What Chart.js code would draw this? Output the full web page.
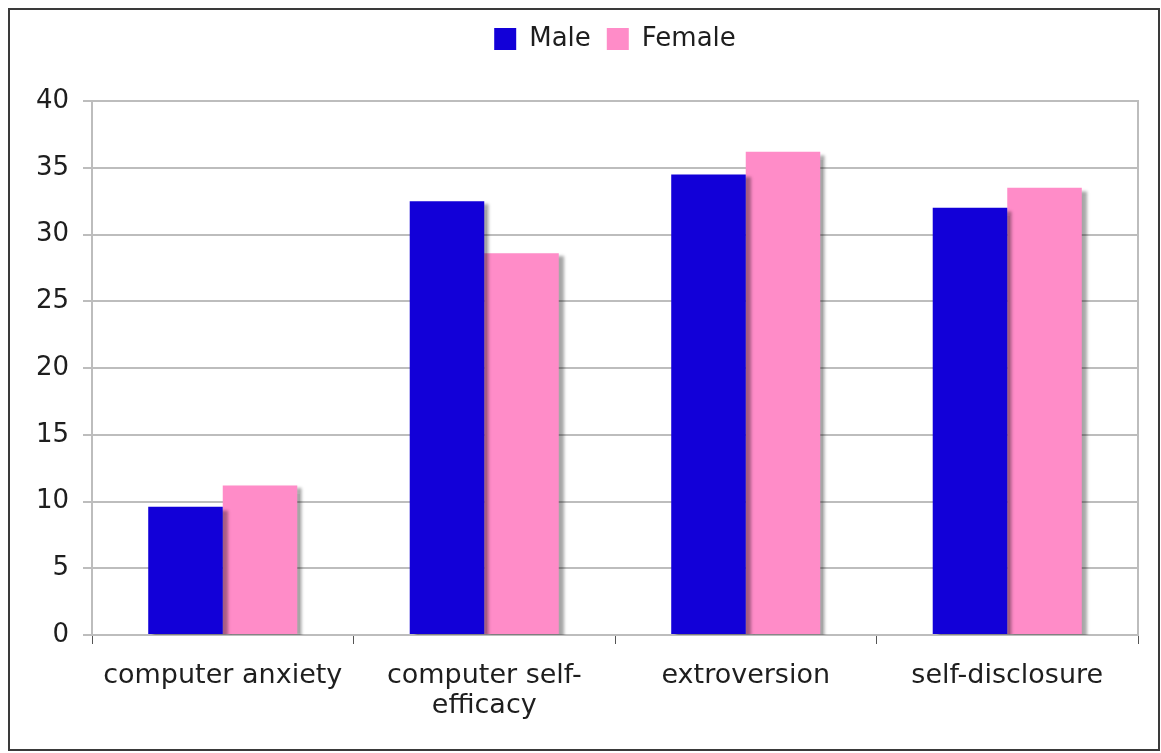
<!DOCTYPE html>
<html>
<head>
<meta charset="utf-8">
<script src="https://cdn.jsdelivr.net/npm/chart.js@4"></script>
<style>
  body { margin: 0; background: #fff; }
  #box {
    position: absolute; left: 8px; top: 8px;
    width: 1148px; height: 739px;
    border: 2px solid #3a3a3a;
  }
</style>
</head>
<body>
<div id="box"><canvas id="chart" width="1148" height="739"></canvas></div>
<script>
var categories = ["computer anxiety", ["computer self-", "efficacy"], "extroversion", "self-disclosure"];
var maleValues = [9.6, 32.5, 34.5, 32.0];
var femaleValues = [11.2, 28.6, 36.2, 33.5];

// light frame round the plot area, soft bar shadows, legend centred over the plot
var frame = {
  id: "frame",
  beforeInit: function (chart) {
    var fit = chart.legend.fit;
    chart.legend.fit = function () {
      fit.bind(chart.legend)();
      this.height += 39;
    };
  },
  afterLayout: function (chart) {
    chart.legend.left = chart.chartArea.left;
    chart.legend.right = chart.chartArea.right;
  },
  beforeDatasetsDraw: function (chart) {
    var a = chart.chartArea, ctx = chart.ctx;
    ctx.save();
    ctx.strokeStyle = "#bdbdbd";
    ctx.lineWidth = 2;
    ctx.strokeRect(a.left, a.top, a.right - a.left, a.bottom - a.top);
    ctx.restore();
    ctx.save();
    ctx.shadowColor = "rgba(0,0,0,0.35)";
    ctx.shadowOffsetX = 5;
    ctx.shadowOffsetY = 3;
    ctx.shadowBlur = 3;
  },
  afterDatasetsDraw: function (chart) {
    chart.ctx.restore();
  }
};

document.addEventListener("DOMContentLoaded", function () {
  var ctx = document.getElementById("chart").getContext("2d");
  Chart.defaults.font.family = "'DejaVu Sans', Verdana, sans-serif";
  Chart.defaults.font.size = 26;
  Chart.defaults.color = "#1e1e1e";

  new Chart(ctx, {
    type: "bar",
    data: {
      labels: categories,
      datasets: [
        { label: "Male", data: maleValues, backgroundColor: "#1200d8" },
        { label: "Female", data: femaleValues, backgroundColor: "#ff8cc8" }
      ]
    },
    options: {
      responsive: false,
      animation: false,
      events: [],
      layout: { padding: { top: 0, right: 20, left: 0, bottom: 0 } },
      categoryPercentage: 0.57,
      barPercentage: 1,
      plugins: {
        legend: {
          position: "top",
          labels: { boxWidth: 22, boxHeight: 22, padding: 16, font: { size: 26 } }
        },
        tooltip: { enabled: false }
      },
      scales: {
        x: {
          grid: { drawOnChartArea: false, drawTicks: true, tickLength: 9, color: "#555" },
          border: { color: "#555", width: 2 },
          ticks: { padding: 17, maxRotation: 0, font: { size: 27, lineHeight: 1.1 } },
          afterFit: function (s) { s.height = 114; }
        },
        y: {
          min: 0, max: 40,
          ticks: { stepSize: 5, padding: 14 },
          grid: { color: "#bdbdbd", lineWidth: 2, tickLength: 9 },
          border: { color: "#555", width: 2 },
          afterFit: function (s) { s.width = 82; }
        }
      }
    },
    plugins: [frame]
  });
});
</script>
</body>
</html>
